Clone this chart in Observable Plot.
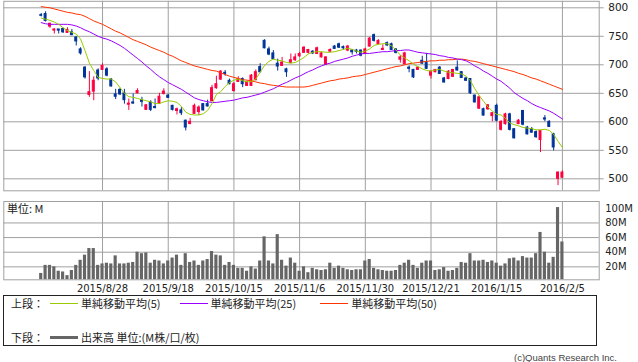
<!DOCTYPE html>
<html><head><meta charset="utf-8">
<script src="https://cdn.jsdelivr.net/npm/d3@7"></script>
<script src="https://cdn.jsdelivr.net/npm/@observablehq/plot@0.6"></script>
<style>
html,body{margin:0;padding:0;background:#fff;}
#root{position:relative;width:638px;height:362px;overflow:hidden;font-family:"Noto Sans CJK JP","DejaVu Sans",sans-serif;color:#222;}
#topchart,#volchart{position:absolute;left:0;}
#topchart{top:0;} #volchart{top:192px;}
.abs{position:absolute;white-space:nowrap;}
#legend{position:absolute;left:3px;top:295px;width:594px;height:51px;border:1px solid #222;box-sizing:border-box;font-size:11px;}
.row{position:absolute;left:7px;height:14px;line-height:14px;white-space:nowrap;}
.sw{display:inline-block;vertical-align:4px;width:28px;height:0;margin:0 3px 0 6px;}
</style></head>
<body><div id="root">
<div id="topchart"></div><div id="volchart"></div>
<div class="abs" style="left:7px;top:201px;font-size:11px;line-height:14px;">単位: M</div>
<div id="legend">
 <div class="row" style="top:0px;">上段：<span class="sw" style="border-top:1px solid #99cc00"></span>単純移動平均(5)<span class="sw" style="border-top:1px solid #9900ff;margin-left:19px"></span>単純移動平均(25)<span class="sw" style="border-top:1px solid #ff3300;margin-left:24px"></span>単純移動平均(50)</div>
 <div class="row" style="top:34px;">下段：<span class="sw" style="border-top:3px solid #666;vertical-align:3px"></span>出来高 単位:(M株/口/枚)</div>
</div>
<div class="abs" style="right:21px;top:351px;font-size:9.5px;line-height:13px;font-family:'Liberation Sans';color:#444;">(c)Quants Research Inc.</div>
</div>
<script>
const opens  = [787,789,767,760,762,763,756,757,748,727,695,647,653,690,691,692,674,648,656,650,630,634,650,638,621,634,626,632,649,646,628,619,620,602,596,614,617,631,631,636,659,674,686,672,654,670,675,663,663,673,696,742,727,720,702,698,692,703,708,715,721,721,723,719,713,700,723,732,736,731,725,725,725,725,719,732,752,736,726,738,736,727,709,701,695,691,691,707,703,681,687,695,676,675,679,695,687,676,675,646,623,622,622,610,628,586,596,613,587,596,619,590,587,582,568,606,600,578,500,502];
const highs  = [790,793,773,763,762,764,765,762,749,730,697,688,679,693,702,695,676,657,659,657,640,649,658,643,630,637,640,650,658,648,629,624,625,603,606,631,628,632,638,664,680,690,690,675,669,679,677,671,683,691,702,744,731,725,710,713,694,719,719,722,732,727,725,731,722,714,728,734,738,733,734,727,727,726,729,748,754,744,735,740,738,728,716,722,698,692,696,715,720,689,692,697,678,690,692,707,688,678,676,647,645,624,630,616,631,602,615,615,588,604,620,592,590,584,585,611,602,580,512,514];
const lows   = [784,775,764,754,754,755,755,751,733,717,675,643,637,672,690,679,661,639,646,631,620,631,649,626,620,618,623,631,647,641,619,612,611,584,595,613,611,619,626,636,657,673,680,665,652,669,660,662,662,672,686,728,716,709,689,697,678,702,706,713,720,719,718,718,712,699,722,727,729,726,723,717,719,714,718,731,740,735,725,732,725,719,703,700,686,676,690,701,692,675,686,683,668,674,678,689,676,671,648,633,622,610,620,600,600,584,594,584,570,595,593,577,580,571,546,600,590,549,488,501];
const closes = [786,777,772,762,760,757,761,752,741,720,678,652,672,676,698,681,662,644,648,638,632,632,654,635,629,621,624,644,653,642,621,622,615,590,600,628,625,620,627,659,666,688,684,666,666,675,666,669,681,687,687,729,718,710,697,704,687,708,713,719,730,726,720,729,720,713,726,728,730,729,732,722,723,716,727,746,742,742,728,734,726,721,713,720,693,678,695,702,693,688,691,684,669,688,691,690,677,672,650,634,643,611,629,615,602,600,613,586,571,602,595,578,581,573,584,604,591,555,511,511];
const volumes = [11,22,22,20,14,13,8,15,22,29,36,45,45,22,24,25,24,35,24,24,25,26,40,38,39,25,29,28,24,28,32,36,22,38,26,28,22,28,30,41,36,35,22,26,22,18,18,14,20,17,28,61,28,24,64,29,21,32,25,14,20,12,18,16,15,16,25,18,21,18,16,15,16,16,28,30,18,16,15,14,14,15,22,25,29,22,18,25,28,28,15,16,19,14,15,18,26,25,38,28,28,29,26,28,25,21,24,31,32,28,34,32,32,38,67,40,25,33,101,54];
const ma5  = [782,780,778,775,771,765,760,757,754,745,725,703,690,678,676,675,675,670,660,650,644,643,641,639,637,635,632,632,635,637,636,634,627,617,613,612,612,614,620,632,648,653,662,669,673,675,672,670,671,675,687,699,706,710,708,707,704,703,704,708,713,719,722,723,723,722,722,723,725,727,729,727,724,722,724,728,734,736,737,737,733,726,717,712,707,701,697,693,690,689,691,692,689,687,686,685,684,680,672,658,646,636,626,619,613,612,606,598,595,593,590,589,588,586,586,587,585,578,566,555];
const ma25 = [774,772,771,771,771,771,771,770,768,765,761,758,754,750,747,745,742,738,734,729,723,717,711,705,698,692,685,679,674,669,665,661,657,652,647,642,639,637,635,634,634,635,636,637,638,640,642,643,645,647,649,652,655,658,662,666,669,673,677,680,684,688,691,695,698,701,703,706,708,710,712,715,717,719,720,720,721,722,723,723,724,725,725,726,726,724,722,721,720,719,718,716,715,713,712,710,709,707,703,698,694,689,685,680,675,671,665,659,651,646,641,637,632,628,625,622,619,615,610,605];
const ma50 = [802,801,800,798,796,794,792,791,789,788,785,781,777,774,771,767,763,759,756,752,748,744,741,738,735,731,728,725,722,718,715,711,707,704,701,698,696,694,692,690,689,686,683,680,678,676,674,673,672,670,668,667,665,664,663,662,661,661,661,661,661,662,664,666,668,670,672,673,675,676,677,679,680,681,683,685,687,689,691,693,695,697,698,700,702,703,704,705,706,707,707,708,708,709,709,710,710,709,707,706,704,702,700,698,696,694,692,690,688,685,683,680,677,675,672,669,666,663,660,657];
const tickIdx = [14,29,44,59,74,89,104,119];
const tickLabels = ["2015/8/28","2015/9/18","2015/10/15","2015/11/6","2015/11/30","2015/12/21","2016/1/15","2016/2/5"];
const priceTicks = [500,550,600,650,700,750,800];
const volTicks = [20,40,60,80,100];
const volGrid = [20,40,60,80];

const data = opens.map((o,i)=>({i, open:o, high:highs[i], low:lows[i], close:closes[i], vol:volumes[i], ma5:ma5[i], ma25:ma25[i], ma50:ma50[i]}));
const UP = "#ff0040", DOWN = "#003399", GRID = "#a0a0a0";
const isUp = d => d.close >= d.open, isDown = d => d.close < d.open;
const xDomain = [-8.54, 127.4];

const priceChart = Plot.plot({
  width: 638, height: 192, marginLeft: 3.3, marginRight: 39.3, marginTop: 0.8, marginBottom: 1.7,
  style: {fontFamily: "DejaVu Sans", fontSize: "10.5px", color: "#222", background: "transparent"},
  x: {domain: xDomain, axis: null},
  y: {domain: [479, 811.4], axis: "right", ticks: priceTicks, tickSize: 0, tickPadding: 9, label: null},
  marks: [
    Plot.ruleY(priceTicks, {stroke: GRID, insetRight: -5}),
    Plot.ruleX(tickIdx, {stroke: GRID}),
    Plot.ruleX(data, {filter: isUp, x: "i", y1: "low", y2: "high", stroke: UP}),
    Plot.ruleX(data, {filter: isDown, x: "i", y1: "low", y2: "high", stroke: DOWN}),
    Plot.rect(data, {filter: isUp, x1: d => d.i - 0.22, x2: d => d.i + 0.22, y1: "open", y2: "close", fill: UP, stroke: UP}),
    Plot.rect(data, {filter: isDown, x1: d => d.i - 0.22, x2: d => d.i + 0.22, y1: "open", y2: "close", fill: DOWN, stroke: DOWN}),
    Plot.line(data, {x: "i", y: "ma50", stroke: "#ff3300", strokeWidth: 1}),
    Plot.line(data, {x: "i", y: "ma25", stroke: "#9900ff", strokeWidth: 1}),
    Plot.line(data, {x: "i", y: "ma5", stroke: "#99cc00", strokeWidth: 1}),
    Plot.frame({stroke: GRID})
  ]
});
document.getElementById("topchart").appendChild(priceChart);

const volChart = Plot.plot({
  width: 638, height: 108, marginLeft: 3.3, marginRight: 39.3, marginTop: 9, marginBottom: 20.7,
  style: {fontFamily: "DejaVu Sans", fontSize: "10px", color: "#222", background: "transparent"},
  x: {domain: xDomain, ticks: tickIdx, tickFormat: d => tickLabels[tickIdx.indexOf(d)], tickSize: 0, tickPadding: 5, label: null},
  y: {domain: [2.3, 109.3], axis: "right", ticks: volTicks, tickFormat: d => d + "M", tickSize: 0, tickPadding: 6, label: null},
  marks: [
    Plot.ruleY(volGrid, {stroke: GRID}),
    Plot.ruleX(tickIdx, {stroke: GRID}),
    Plot.rect(data, {x1: d => d.i - 0.36, x2: d => d.i + 0.36, y1: 0, y2: "vol", fill: "#666", clip: true}),
    Plot.frame({stroke: GRID})
  ]
});
document.getElementById("volchart").appendChild(volChart);
</script>
</body></html>
